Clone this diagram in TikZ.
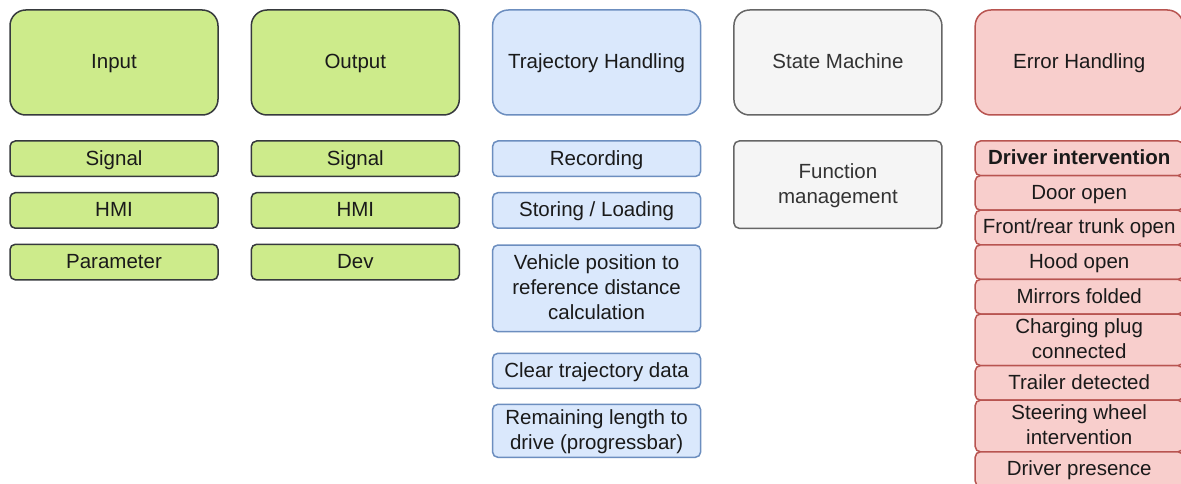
\documentclass[tikz,border=0pt]{standalone}
\usepackage{fontspec}
\setmainfont{Liberation Sans}
\definecolor{txt}{HTML}{1A1A1A}
\definecolor{txtgray}{HTML}{333333}
\definecolor{gfill}{HTML}{CDEB8B}
\definecolor{gline}{HTML}{36393D}
\definecolor{bfill}{HTML}{DAE8FC}
\definecolor{bline}{HTML}{6C8EBF}
\definecolor{sfill}{HTML}{F5F5F5}
\definecolor{sline}{HTML}{666666}
\definecolor{rfill}{HTML}{F8CECC}
\definecolor{rline}{HTML}{B85450}
\newcommand\mystrut{\rule[-6.15pt]{0pt}{25pt}}
\newcommand\boxfont{\fontsize{20.5}{25}\selectfont}
\tikzset{
  basebox/.style={rectangle, line width=1.5pt, inner sep=0pt, align=center, font=\boxfont, text=txt},
  big/.style={basebox, rounded corners=15.75pt, minimum width=208pt, minimum height=105pt},
  small/.style={basebox, rounded corners=5.25pt, minimum width=208pt},
  greenbox/.style={draw=gline, fill=gfill},
  bluebox/.style={draw=bline, fill=bfill},
  graybox/.style={draw=sline, fill=sfill, text=txtgray},
  redbox/.style={draw=rline, fill=rfill},
}
\begin{document}
\begin{tikzpicture}[x=1pt,y=-1pt]
\clip (0,0) rectangle (1181,484);
\fill[white] (0,0) rectangle (1181,484);
% headers
\node[big, greenbox] (input) at (114,62.5) {\mystrut Input};
\node[big, greenbox] (output) at (355.3,62.5) {\mystrut Output};
\node[big, bluebox] (traj) at (596.6,62.5) {\mystrut Trajectory Handling};
\node[big, graybox] (state) at (837.9,62.5) {\mystrut State Machine};
\node[big, redbox] (error) at (1079.2,62.5) {\mystrut Error Handling};
% input column
\node[small, greenbox, minimum height=35.5pt] (insig) at (114,158.75) {\mystrut Signal};
\node[small, greenbox, minimum height=35.5pt] (inhmi) at (114,210.45) {\mystrut HMI};
\node[small, greenbox, minimum height=35.5pt] (inpar) at (114,262.05) {\mystrut Parameter};
% output column
\node[small, greenbox, minimum height=35.5pt] (outsig) at (355.3,158.75) {\mystrut Signal};
\node[small, greenbox, minimum height=35.5pt] (outhmi) at (355.3,210.45) {\mystrut HMI};
\node[small, greenbox, minimum height=35.5pt] (outdev) at (355.3,262.05) {\mystrut Dev};
% trajectory column
\node[small, bluebox, minimum height=35.5pt] (rec) at (596.6,158.75) {\mystrut Recording};
\node[small, bluebox, minimum height=35.5pt] (store) at (596.6,210.45) {\mystrut Storing / Loading};
\node[small, bluebox, minimum height=86.7pt] (veh) at (596.6,288.35) {\mystrut Vehicle position to\\\mystrut reference distance\\\mystrut calculation};
\node[small, bluebox, minimum height=35pt] (clear) at (596.6,370.8) {\mystrut Clear trajectory data};
\node[small, bluebox, minimum height=53pt] (remain) at (596.6,430.8) {\mystrut Remaining length to\\\mystrut drive (progressbar)};
% state machine column
\node[small, graybox, minimum height=87.3pt] (func) at (837.9,184.65) {\mystrut Function\\\mystrut management};
% error column
\node[small, redbox, minimum height=34.6pt] (e1) at (1079.2,158.3) {\mystrut\bfseries Driver intervention};
\node[small, redbox, minimum height=34.6pt] (e2) at (1079.2,192.9) {\mystrut Door open};
\node[small, redbox, minimum height=34.6pt] (e3) at (1079.2,227.5) {\mystrut Front/rear trunk open};
\node[small, redbox, minimum height=34.6pt] (e4) at (1079.2,262.1) {\mystrut Hood open};
\node[small, redbox, minimum height=34.6pt] (e5) at (1079.2,296.7) {\mystrut Mirrors folded};
\node[small, redbox, minimum height=51.6pt] (e6) at (1079.2,339.8) {\mystrut Charging plug\\\mystrut connected};
\node[small, redbox, minimum height=34.6pt] (e7) at (1079.2,382.9) {\mystrut Trailer detected};
\node[small, redbox, minimum height=51.6pt] (e8) at (1079.2,426.0) {\mystrut Steering wheel\\\mystrut intervention};
\node[small, redbox, minimum height=34.6pt] (e9) at (1079.2,469.1) {\mystrut Driver presence};
\end{tikzpicture}
\end{document}
